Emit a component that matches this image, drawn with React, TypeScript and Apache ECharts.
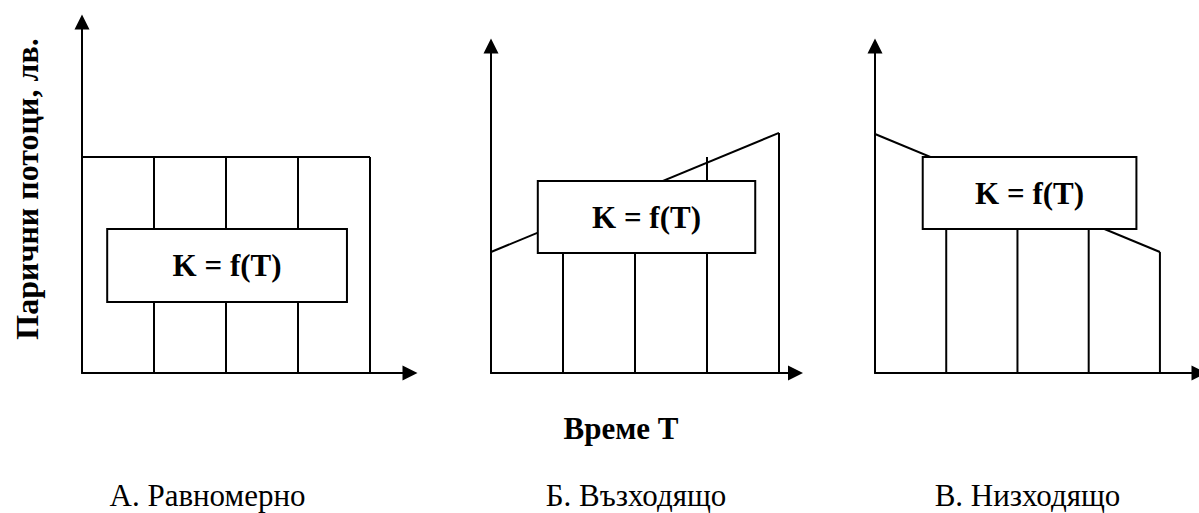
import React, { useEffect, useRef } from "react";
import * as echarts from "echarts";

// ---- data (value units: x in periods, y in money units) ----
const verticalPeriods = [1, 2, 3, 4];

// Panel A – even cash flows
const outlineA = [
  [0, 60],
  [4, 60],
];
const verticalTopsA = [60, 60, 60, 60];

// Panel Б – rising cash flows
const outlineB = [
  [0, 33.6],
  [4, 66.7],
];
const verticalTopsB = [42, 50, 60, 66.7];

// Panel В – falling cash flows
const outlineC = [
  [0, 66.4],
  [4, 33.6],
];
const verticalTopsC = [58, 50, 42, 33.6];

// K = f(T) boxes: [x0, x1, y0, y1]
const boxA = [0.35, 3.68, 19.7, 40];
const boxB = [0.65, 3.67, 33.3, 53.3];
const boxC = [0.67, 3.67, 40, 60];

const boxLabel = "K = f(T)";
const yTitle = "Парични потоци, лв.";
const xTitle = "Време T";
const panelTitles = ["А. Равномерно", "Б. Възходящо", "В. Низходящо"];

// ---- layout ----
const W = 1199;
const H = 513;
const PX_PER_PERIOD = 72;
const PX_PER_UNIT = 3.6;
const FONT = "Liberation Serif, Times New Roman, serif";
const titleX = [207.5, 636, 1027.5];

const panels = [
  { left: 82, top: 22, width: 328, height: 351, outline: outlineA, tops: verticalTopsA, box: boxA },
  { left: 491, top: 46, width: 304.5, height: 327, outline: outlineB, tops: verticalTopsB, box: boxB },
  { left: 875, top: 46, width: 327.5, height: 327, outline: outlineC, tops: verticalTopsC, box: boxC },
];

const axisLine = {
  show: true,
  onZero: false,
  symbol: ["none", "triangle"],
  symbolSize: [15, 15],
  lineStyle: { color: "#000", width: 2 },
};

export default function App() {
  const ref = useRef<HTMLDivElement>(null);

  useEffect(() => {
    if (!ref.current) return;
    const chart = echarts.init(ref.current, null, { renderer: "svg" });

    const grid = panels.map((p) => ({
      left: p.left,
      top: p.top,
      width: p.width,
      height: p.height,
      containLabel: false,
    }));
    const xAxis = panels.map((p, i) => ({
      type: "value",
      gridIndex: i,
      min: 0,
      max: p.width / PX_PER_PERIOD,
      axisLine,
      axisTick: { show: false },
      axisLabel: { show: false },
      splitLine: { show: false },
    }));
    const yAxis = panels.map((p, i) => ({
      type: "value",
      gridIndex: i,
      min: 0,
      max: p.height / PX_PER_UNIT,
      axisLine,
      axisTick: { show: false },
      axisLabel: { show: false },
      splitLine: { show: false },
    }));

    const series: any[] = [];
    panels.forEach((p, i) => {
      series.push({
        type: "line",
        xAxisIndex: i,
        yAxisIndex: i,
        data: p.outline,
        showSymbol: false,
        symbol: "none",
        lineStyle: { color: "#000", width: 2 },
        z: 2,
        silent: true,
      });
      series.push({
        type: "custom",
        xAxisIndex: i,
        yAxisIndex: i,
        data: verticalPeriods.map((x, k) => [x, p.tops[k]]),
        encode: { x: 0, y: 1 },
        z: 2,
        silent: true,
        renderItem: (_params: any, api: any) => {
          const x = api.value(0);
          const top = api.value(1);
          const p0 = api.coord([x, 0]);
          const p1 = api.coord([x, top]);
          return {
            type: "line",
            shape: { x1: p0[0], y1: p0[1], x2: p1[0], y2: p1[1] },
            style: { stroke: "#000", lineWidth: 2 },
          };
        },
      });
      series.push({
        type: "custom",
        xAxisIndex: i,
        yAxisIndex: i,
        data: [p.box],
        encode: { x: [0, 1], y: [2, 3] },
        z: 5,
        silent: true,
        renderItem: (_params: any, api: any) => {
          const a = api.coord([api.value(0), api.value(3)]);
          const b = api.coord([api.value(1), api.value(2)]);
          return {
            type: "group",
            children: [
              {
                type: "rect",
                shape: { x: a[0], y: a[1], width: b[0] - a[0], height: b[1] - a[1] },
                style: { fill: "#fff", stroke: "#000", lineWidth: 2 },
              },
              {
                type: "text",
                x: (a[0] + b[0]) / 2,
                y: (a[1] + b[1]) / 2,
                style: {
                  text: boxLabel,
                  align: "center",
                  verticalAlign: "middle",
                  fontSize: 31,
                  fontWeight: "bold",
                  fontFamily: FONT,
                  fill: "#000",
                },
              },
            ],
          };
        },
      });
    });

    const graphic: any[] = [
      {
        type: "text",
        x: 27,
        y: 189,
        rotation: Math.PI / 2,
        style: {
          text: yTitle,
          align: "center",
          verticalAlign: "middle",
          fontSize: 32,
          fontWeight: "bold",
          fontFamily: FONT,
          fill: "#000",
        },
      },
      {
        type: "text",
        x: 621,
        y: 428,
        style: {
          text: xTitle,
          align: "center",
          verticalAlign: "middle",
          fontSize: 31,
          fontWeight: "bold",
          fontFamily: FONT,
          fill: "#000",
        },
      },
      ...panelTitles.map((t, i) => ({
        type: "text",
        x: titleX[i],
        y: 495,
        style: {
          text: t,
          align: "center",
          verticalAlign: "middle",
          fontSize: 31,
          fontFamily: FONT,
          fill: "#000",
        },
      })),
    ];

    chart.setOption({
      animation: false,
      backgroundColor: "#fff",
      grid,
      xAxis,
      yAxis,
      series,
      graphic,
    });

    return () => chart.dispose();
  }, []);

  return (
    <div
      ref={ref}
      style={{ position: "fixed", left: 0, top: 0, width: W, height: H }}
    />
  );
}
